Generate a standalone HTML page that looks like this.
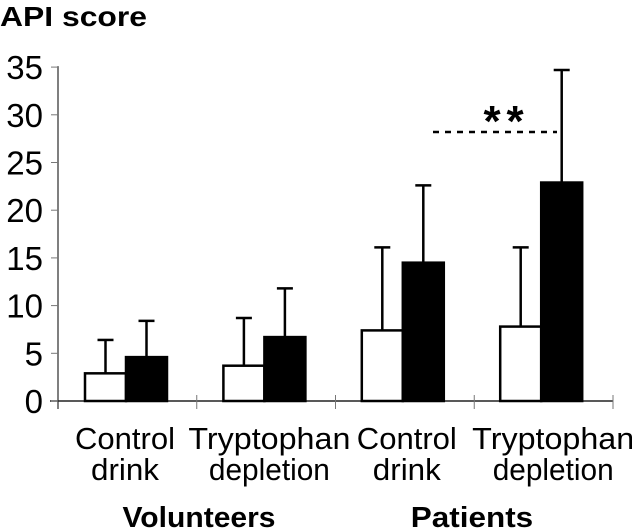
<!DOCTYPE html>
<html><head><meta charset="utf-8"><style>
html,body{margin:0;padding:0;background:#fff;}
svg{display:block;font-family:"Liberation Sans",Arial,sans-serif;}
</style></head><body>
<svg id="chart" width="632" height="532" viewBox="0 0 632 532">
<text x="0" y="26" font-size="28" font-weight="bold" textLength="147" lengthAdjust="spacingAndGlyphs">API score</text>
<g id="axes"></g>
<g id="bars"></g>
<g id="labels"></g>
</svg>
<script>
const categories = ["Control drink", "Tryptophan depletion", "Control drink", "Tryptophan depletion"];
const groups = ["Volunteers", "Patients"];
const whiteValues = [2.9, 3.7, 7.4, 7.8];
const whiteErrors = [3.5, 5.0, 8.7, 8.3];
const blackValues = [4.6, 6.7, 14.5, 22.9];
const blackErrors = [3.8, 5.1, 8.1, 11.8];
const yTicks = [0, 5, 10, 15, 20, 25, 30, 35];
const sigLevel = 28.2;

const NS = "http://www.w3.org/2000/svg";
const x0 = 58, y0 = 401, pxPerUnit = 9.54;
const catW = 138.75, barW = 41;
const y = v => y0 - v * pxPerUnit;
const catCenter = i => 126 + i * 138.4;
const labelShift = [-1, 5, 4, 12];
const wordWidth = {Control: 100, drink: 68, Tryptophan: 162, depletion: 121};
function mk(tag, attrs, parent) {
  const e = document.createElementNS(NS, tag);
  for (const k in attrs) e.setAttribute(k, attrs[k]);
  parent.appendChild(e);
  return e;
}
const axes = document.getElementById('axes');
const bars = document.getElementById('bars');
const labels = document.getElementById('labels');

const yAxis = mk('line', {x1: x0, y1: y(35) - 1, x2: x0, y2: y0 + 8, stroke: '#555', 'stroke-width': 1.5}, axes);


const xAxis = mk('line', {x1: x0 - 8, y1: y0, x2: x0 + catW * 4, y2: y0, stroke: '#222', 'stroke-width': 1.5}, axes);


for (let i = 1; i <= 4; i++) {
  const tx = x0 + catW * i;
  const t = mk('line', {x1: tx, y1: y0 - 6, x2: tx, y2: y0 + 8, stroke: '#777', 'stroke-width': 1}, axes);
  
  
}
yTicks.forEach(v => {
  const t = mk('line', {x1: x0 - 7, y1: y(v), x2: x0, y2: y(v), stroke: '#777', 'stroke-width': 1}, axes);
  
  
  const tl = mk('text', {x: 43, y: y(v) + 12, 'font-size': 33, 'text-anchor': 'end'}, axes);
  tl.textContent = String(v);
  
  
});

function drawBar(cx, v, err, fill, name) {
  const top = y(v);
  const eTop = y(v + err);
  const ev = mk('line', {x1: cx, y1: top, x2: cx, y2: eTop, stroke: '#000', 'stroke-width': 2.5}, bars);
  
  
  const cap = mk('line', {x1: cx - 8, y1: eTop, x2: cx + 8, y2: eTop, stroke: '#000', 'stroke-width': 2.5}, bars);
  
  
  const r = mk('rect', {x: cx - barW / 2, y: top, width: barW, height: y0 - top, fill: fill, stroke: '#000', 'stroke-width': 2.5}, bars);
  
  
}
categories.forEach((c, i) => {
  const cc = catCenter(i);
  drawBar(cc - barW / 2, whiteValues[i], whiteErrors[i], '#fff', 'white-bar-' + (i + 1));
  drawBar(cc + barW / 2, blackValues[i], blackErrors[i], '#000', 'black-bar-' + (i + 1));
  const parts = c.split(' ');
  parts.forEach((p, j) => {
    const t = mk('text', {x: cc + labelShift[i], y: 449 + j * 31, 'font-size': 31, 'text-anchor': 'middle', textLength: wordWidth[p] || p.length * 14, lengthAdjust: 'spacingAndGlyphs'}, labels);
    t.textContent = p;
    
    
  });
});
const groupCenters = [199, 472];
groups.forEach((g, i) => {
  const t = mk('text', {x: groupCenters[i], y: 527, 'font-size': 29, 'font-weight': 'bold', 'text-anchor': 'middle', textLength: g.length * 15.3, lengthAdjust: 'spacingAndGlyphs'}, labels);
  t.textContent = g;
  
  
});
const dash = mk('line', {x1: 433, y1: y(sigLevel), x2: 557, y2: y(sigLevel), stroke: '#000', 'stroke-width': 2.5, 'stroke-dasharray': '6 6'}, bars);


[492, 515].forEach(sx => {
  const star = mk('text', {x: sx, y: y(sigLevel) + 4, 'font-size': 44, 'font-weight': 'bold', 'text-anchor': 'middle'}, bars);
  star.textContent = '*';
  
  
});
</script>
</body></html>
